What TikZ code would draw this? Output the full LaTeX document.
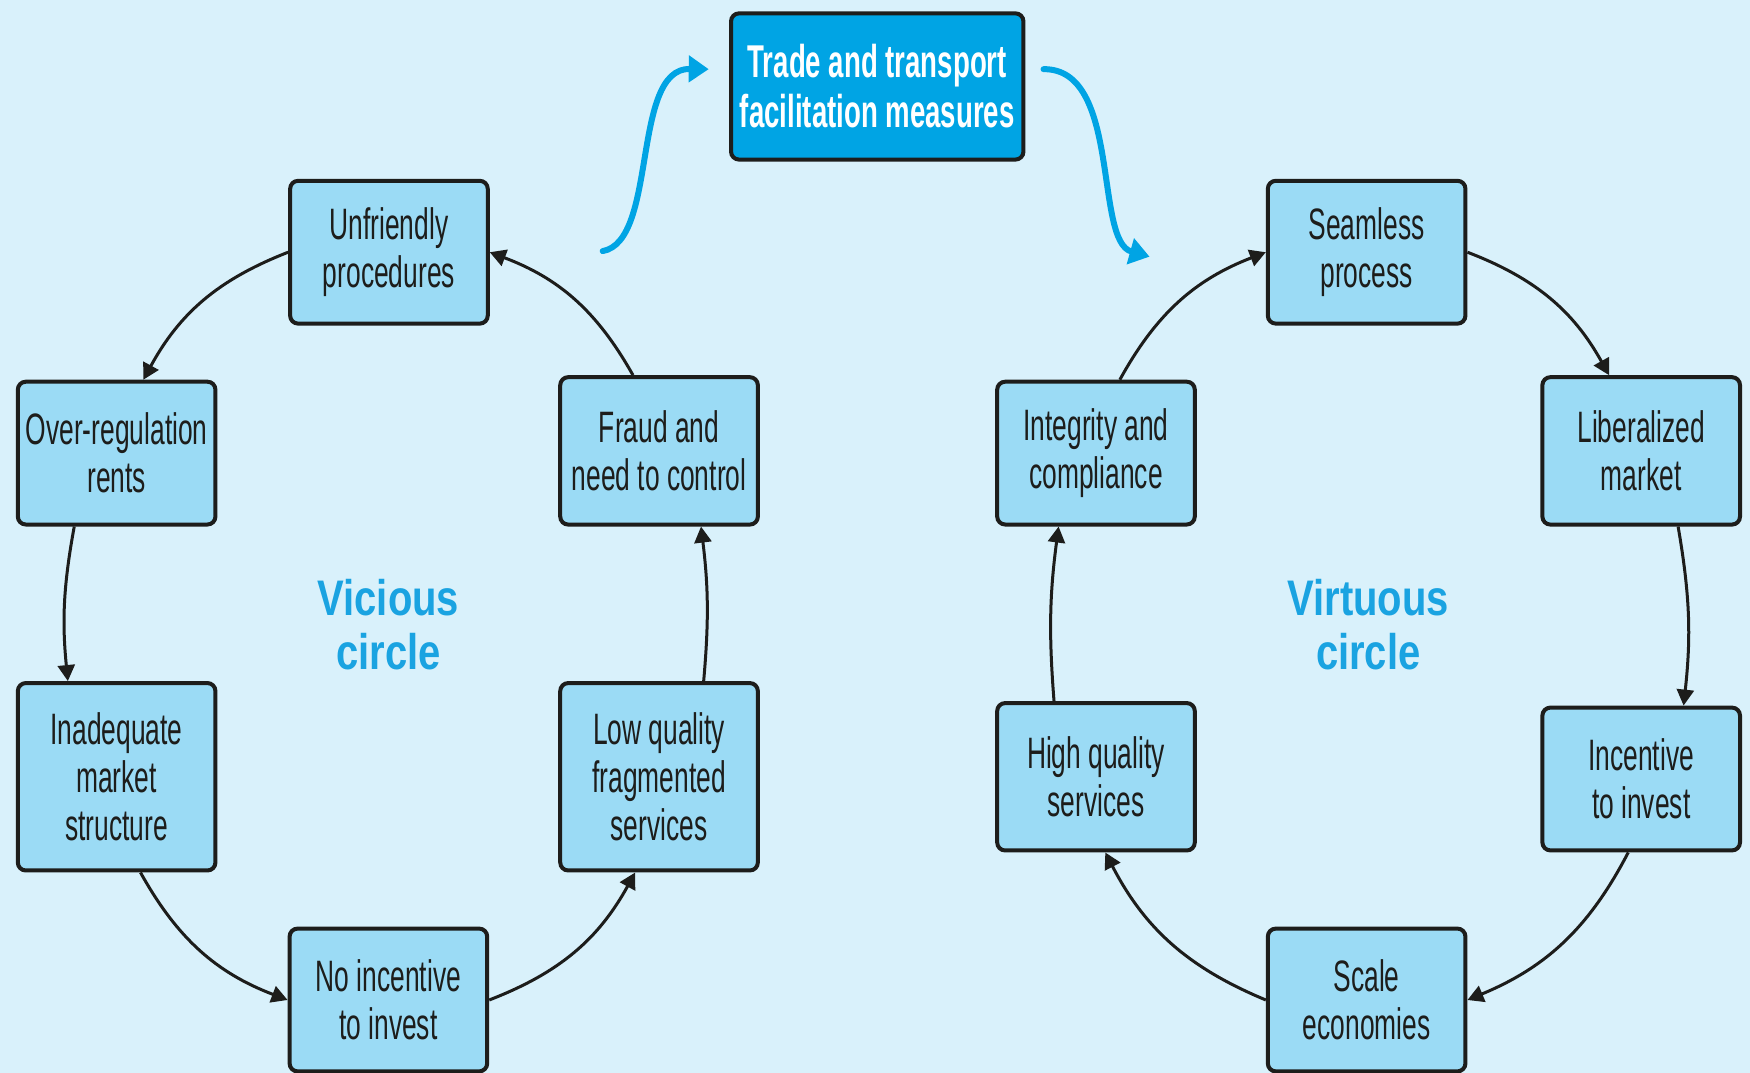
\documentclass[tikz,border=0pt]{standalone}
\usepackage{fontspec}
\setmainfont{Liberation Sans}
\newfontfamily\boxfont[FakeStretch=0.6]{Liberation Sans}
\newfontfamily\tradefont[FakeStretch=0.6]{Liberation Sans}
\newfontfamily\circfont[FakeStretch=0.8]{Liberation Sans}
\usetikzlibrary{arrows.meta}
\definecolor{bgcol}{HTML}{D9F1FB}
\definecolor{boxcol}{HTML}{9BDBF5}
\definecolor{tradecol}{HTML}{00A4E4}
\definecolor{bluetext}{HTML}{1AA3E1}
\definecolor{linecol}{HTML}{1D1D1B}
\begin{document}
\begin{tikzpicture}[x=0.558pt,y=0.558pt,
  cbox/.style={draw=linecol, line width=2pt, fill=boxcol, rounded corners=4pt,
    minimum width=98.8pt, minimum height=71.4pt, align=center, inner sep=0pt,
    font=\boxfont\fontsize{22}{24}\selectfont, text=linecol},
  tallbox/.style={cbox, minimum height=93.7pt},
  midbox/.style={cbox, minimum height=73.7pt},
  tradebox/.style={cbox, fill=tradecol, minimum width=146.2pt, minimum height=73.1pt,
    text=white, font=\tradefont\bfseries\fontsize{23}{25}\selectfont},
  circtext/.style={align=center, text=bluetext, inner sep=0pt,
    font=\circfont\bfseries\fontsize{25}{27}\selectfont},
  flow/.style={draw=linecol, line width=1.5pt, -{Triangle[length=8pt,width=8.5pt]}},
  blueflow/.style={draw=tradecol, line width=3pt, line cap=round,
    -{Triangle[length=10pt,width=13pt]}}
]
\fill[bgcol] (0,0) rectangle (1568,961);
\useasboundingbox (0,0) rectangle (1568,961);

% top box
\node[tradebox] (trade) at (786,883.5) {Trade and transport\\facilitation measures};

% vicious circle
\node[cbox] (unf) at (348.5,735) {Unfriendly\\procedures};
\node[cbox] (over) at (104.5,555) {Over-regulation\\rents};
\node[tallbox] (inad) at (104.5,265) {Inadequate\\market\\structure};
\node[cbox] (noinc) at (348,65) {No incentive\\to invest};
\node[tallbox] (lowq) at (590.5,265) {Low quality\\fragmented\\services};
\node[midbox] (fraud) at (590.5,557) {Fraud and\\need to control};
\node[circtext] (vic) at (348,401) {Vicious\\circle};

% virtuous circle
\node[cbox] (seam) at (1224.5,735) {Seamless\\process};
\node[midbox] (lib) at (1470.5,557) {Liberalized\\market};
\node[cbox] (inc) at (1470.5,263) {Incentive\\to invest};
\node[cbox] (scale) at (1224.5,65) {Scale\\economies};
\node[midbox] (high) at (982,265) {High quality\\services};
\node[cbox] (integ) at (982,555) {Integrity and\\compliance};
\node[circtext] (vir) at (1226,401) {Virtuous\\circle};

% vicious arrows
\draw[flow] (unf.west) to[bend right=20] (over.70);
\draw[flow] (over.240) to[bend right=8] (inad.117);
\draw[flow] (inad.-76) to[bend right=20] (noinc.west);
\draw[flow] (noinc.east) to[bend right=20] (lowq.256);
\draw[flow] (lowq.65) to[bend right=6] (fraud.-61);
\draw[flow] (fraud.109) to[bend right=20] (unf.east);

% virtuous arrows
\draw[flow] (seam.east) to[bend left=20] (lib.113);
\draw[flow] (lib.-64) to[bend left=8] (inc.60);
\draw[flow] (inc.260) to[bend left=20] (scale.east);
\draw[flow] (scale.west) to[bend left=20] (high.-83);
\draw[flow] (high.119) to[bend left=6] (integ.243);
\draw[flow] (integ.72) to[bend left=20] (seam.west);

% blue arrows
\coordinate (b1s) at (540,736);
\coordinate (b1e) at (635,899);
\coordinate (b2s) at (935,899);
\coordinate (b2e) at (1030,731);
\draw[blueflow] (b1s) .. controls (590,745) and (565,900) .. (b1e);
\draw[blueflow] (b2s) .. controls (1005,900) and (980,745) .. (b2e);
\end{tikzpicture}
\end{document}
